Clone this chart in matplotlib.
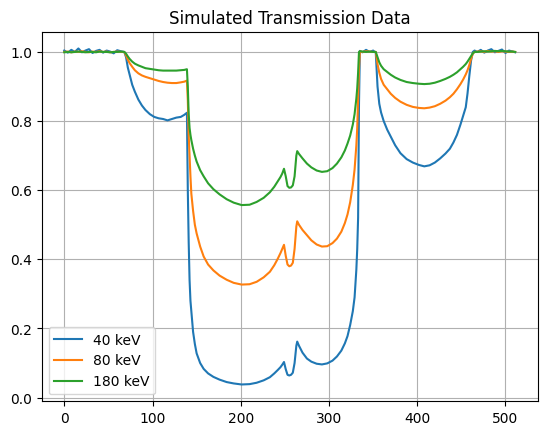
import matplotlib

matplotlib.use("Agg")
import matplotlib.pyplot as plt

# pixel index along the detector row
x = [0, 4, 8, 12, 16, 20, 24, 28, 32, 36, 40, 44, 48, 52, 56, 60, 64, 68,
     70, 72, 74, 77, 80, 84, 88, 92, 97, 102, 107, 112, 117, 122, 127, 132, 136, 139,
     140, 141, 142, 143, 144, 146, 148, 150, 154, 158, 163, 169, 176,
     184, 192, 201, 210, 218, 226, 233, 238, 242, 245, 247, 249, 251, 253, 255,
     257, 259, 261, 263, 264, 266, 270, 275, 280, 286, 292, 298, 304, 309, 314,
     318, 321, 324, 327, 329, 331, 332, 333, 334,
     335, 338, 342, 346, 350, 353,
     355, 357, 359, 362, 366, 370, 375, 381, 388, 395, 402, 408, 414, 420, 426,
     432, 437, 441, 445, 449, 452, 455, 457, 459, 461, 463, 465,
     468, 472, 476, 480, 484, 488, 492, 496, 500, 504, 508, 511]

t40 = [1.004, 0.998, 1.006, 1.000, 1.010, 0.999, 1.004, 1.008, 0.997, 1.003, 1.006, 0.998,
       1.004, 1.001, 0.996, 1.005, 1.002, 1.000,
       0.985, 0.955, 0.935, 0.905, 0.885, 0.862, 0.845, 0.832, 0.820, 0.812, 0.808, 0.806,
       0.802, 0.806, 0.810, 0.812, 0.818, 0.824,
       0.60, 0.45, 0.34, 0.28, 0.25, 0.19, 0.155, 0.128, 0.100, 0.083, 0.070, 0.060, 0.052,
       0.045, 0.041, 0.038, 0.039, 0.043, 0.050, 0.059, 0.070, 0.080, 0.088, 0.095, 0.103,
       0.082, 0.066, 0.064, 0.066, 0.072, 0.100, 0.150, 0.162, 0.150, 0.130, 0.113, 0.104,
       0.098, 0.096, 0.099, 0.107, 0.119, 0.136, 0.157, 0.178, 0.210, 0.250, 0.290,
       0.370, 0.43, 0.52, 0.85,
       1.003, 0.999, 1.006, 1.000, 1.004, 0.998,
       0.900, 0.850, 0.825, 0.800, 0.775, 0.755, 0.730, 0.707, 0.690, 0.680, 0.673, 0.669,
       0.672, 0.680, 0.692, 0.706, 0.720, 0.738, 0.760, 0.790, 0.815, 0.840, 0.880, 0.930,
       0.975, 1.000, 1.004,
       1.000, 1.006, 0.998, 1.004, 1.008, 0.999, 1.003, 1.007, 0.997, 1.004, 1.001, 0.999]

t80 = [1.000, 1.001, 0.999, 1.001, 1.000, 1.002, 1.000, 0.999, 1.001, 1.000, 1.002, 1.000,
       1.001, 0.999, 1.000, 1.001, 1.000, 1.000,
       0.990, 0.978, 0.968, 0.957, 0.947, 0.938, 0.932, 0.928, 0.924, 0.920, 0.916, 0.913,
       0.911, 0.910, 0.910, 0.912, 0.914, 0.917,
       0.86, 0.76, 0.70, 0.64, 0.59, 0.54, 0.50, 0.475, 0.437, 0.408, 0.385, 0.368, 0.353,
       0.341, 0.332, 0.327, 0.328, 0.335, 0.348, 0.364, 0.383, 0.402, 0.418, 0.430, 0.442,
       0.410, 0.385, 0.380, 0.382, 0.390, 0.430, 0.495, 0.510, 0.500, 0.485, 0.470, 0.455,
       0.443, 0.437, 0.438, 0.447, 0.460, 0.480, 0.505, 0.530, 0.565, 0.615, 0.660,
       0.730, 0.780, 0.860, 0.950,
       1.001, 1.000, 1.002, 1.001, 1.000, 1.000,
       0.965, 0.940, 0.922, 0.905, 0.892, 0.879, 0.867, 0.856, 0.847, 0.841, 0.838, 0.837,
       0.839, 0.843, 0.850, 0.859, 0.869, 0.879, 0.892, 0.907, 0.920, 0.935, 0.947, 0.962,
       0.980, 0.995, 1.000,
       1.001, 1.002, 1.000, 1.003, 1.001, 1.002, 1.000, 1.002, 1.001, 1.000, 1.001, 1.000]

t180 = [0.999, 1.000, 0.999, 1.000, 1.001, 1.000, 0.999, 1.000, 1.000, 0.999, 1.001, 1.000,
        1.000, 0.999, 1.000, 1.000, 1.001, 1.000,
        0.995, 0.987, 0.980, 0.972, 0.966, 0.961, 0.957, 0.953, 0.951, 0.949, 0.947, 0.946,
        0.946, 0.946, 0.946, 0.947, 0.948, 0.950,
        0.90, 0.82, 0.78, 0.76, 0.745, 0.72, 0.70, 0.683, 0.658, 0.640, 0.620, 0.603, 0.588,
        0.574, 0.564, 0.557, 0.558, 0.566, 0.578, 0.594, 0.610, 0.626, 0.638, 0.648, 0.662,
        0.640, 0.612, 0.607, 0.608, 0.614, 0.640, 0.700, 0.713, 0.705, 0.692, 0.677, 0.666,
        0.657, 0.653, 0.655, 0.664, 0.677, 0.695, 0.715, 0.735, 0.758, 0.790, 0.820,
        0.865, 0.895, 0.94, 1.0,
        1.002, 1.001, 1.000, 1.001, 1.000, 1.000,
        0.985, 0.970, 0.960, 0.950, 0.942, 0.934, 0.926, 0.919, 0.913, 0.910, 0.908, 0.907,
        0.908, 0.911, 0.916, 0.922, 0.928, 0.934, 0.941, 0.950, 0.957, 0.965, 0.972, 0.980,
        0.988, 0.996, 1.000,
        1.000, 1.001, 1.002, 1.001, 1.002, 1.003, 1.002, 1.003, 1.002, 1.001, 1.001, 1.000]

labels = ["40 keV", "80 keV", "180 keV"]

assert len(x) == len(t40) == len(t80) == len(t180)

fig, ax = plt.subplots(figsize=(6.4, 4.8))
for t, lab in zip((t40, t80, t180), labels):
    ax.plot(x, t, label=lab)
ax.set_title("Simulated Transmission Data")
ax.grid(True)
ax.legend(loc="lower left")
fig.savefig("out.png", dpi=100, bbox_inches="tight")
